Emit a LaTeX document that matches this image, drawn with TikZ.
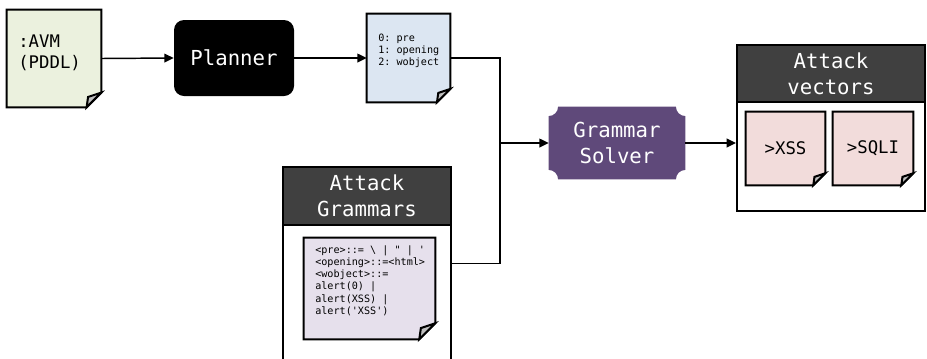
\documentclass[tikz,border=0pt]{standalone}
\usepackage{fontspec}
\setmonofont{DejaVu Sans Mono}
\usetikzlibrary{arrows.meta,calc}
\pgfdeclarelayer{background}
\pgfsetlayers{background,main}

\definecolor{avmfill}{HTML}{EBF1DE}
\definecolor{planfill}{HTML}{DCE6F2}
\definecolor{gramfill}{HTML}{E6E0EC}
\definecolor{vecfill}{HTML}{F2DCDB}
\definecolor{solverfill}{HTML}{5F497A}
\definecolor{headfill}{HTML}{404040}
\definecolor{foldgray}{HTML}{BFBFBF}

% Sheet of paper with a folded bottom-right corner, drawn behind node #1
\newcommand\dogear[3]{%
  \begin{pgfonlayer}{background}
    \path[docline, fill=#2] (#1.north west) -- (#1.north east)
      -- ([yshift=#3]#1.south east) -- ([xshift=-#3]#1.south east)
      -- (#1.south west) -- cycle;
    \path[docline, fill=foldgray] ([yshift=#3]#1.south east)
      -- ([xshift=-#3]#1.south east)
      -- ([shift={(-0.9*#3,0.7*#3)}]#1.south east) -- cycle;
  \end{pgfonlayer}}

\begin{document}
\begin{tikzpicture}[x=0.75pt, y=-0.75pt,
  big/.style={font=\ttfamily\fontsize{15.5}{19.5}\selectfont},
  mid/.style={font=\ttfamily\fontsize{13}{15.5}\selectfont},
  small/.style={font=\ttfamily\fontsize{7.6}{9.2}\selectfont},
  docline/.style={draw=black, line width=1.5pt},
  docbox/.style={rectangle, inner sep=0pt},
  doctext/.style={anchor=west, align=left, inner sep=0pt},
  frame/.style={rectangle, draw=black, line width=1.5pt, inner sep=0pt},
  head/.style={frame, fill=headfill, text=white, align=center, big},
  wire/.style={line width=1.1pt},
  conn/.style={wire, -{Triangle[length=7pt,width=6.5pt]}}]

\useasboundingbox (0,0) rectangle (927,358);

% Input model
\node[docbox, minimum width=70.5pt, minimum height=72.75pt] (avm) at (54,58.5) {};
\dogear{avm}{avmfill}{11pt}
\node[doctext, mid] (avmtext) at (18,53) {:AVM\\(PDDL)};

% Planner
\node[rectangle, rounded corners=7.5pt, fill=black, text=white, big,
      minimum width=90pt, minimum height=57pt] (planner) at (234,58) {Planner};

% Plan output
\node[docbox, minimum width=62.25pt, minimum height=66pt] (plan) at (408.5,58) {};
\dogear{plan}{planfill}{10pt}
\node[doctext, small] (plantext) at (378,51) {0: pre\\1: opening\\2: wobject};

% Attack grammars
\node[frame, minimum width=126pt, minimum height=144.75pt] (agbox) at (367,263.5) {};
\node[head, minimum width=126pt, minimum height=43.5pt] (aghead) at (367,196) {Attack\\Grammars};
\node[docbox, minimum width=98.25pt, minimum height=75.75pt] (gdoc) at (369.5,288.5) {};
\dogear{gdoc}{gramfill}{12pt}
\node[doctext, small] (gdoctext) at (315,280.5)
  {<pre>::= \textbackslash{} | " | '\\<opening>::=<html>\\<wobject>::=\\alert(0) |\\alert(XSS) |\\alert('XSS')};

% Grammar solver
\node[rectangle, inner sep=0pt, minimum width=102pt, minimum height=54pt,
      text=white, align=center, big] (solver) at (617,143) {Grammar\\Solver};
\begin{pgfonlayer}{background}
  \path[fill=solverfill]
    ([xshift=7pt]solver.north west) -- ([xshift=-7pt]solver.north east)
    arc[start angle=180, end angle=270, radius=7pt]
    -- ([yshift=7pt]solver.south east)
    arc[start angle=90, end angle=180, radius=7pt]
    -- ([xshift=7pt]solver.south west)
    arc[start angle=0, end angle=90, radius=7pt]
    -- ([yshift=-7pt]solver.north west)
    arc[start angle=270, end angle=360, radius=7pt] -- cycle;
\end{pgfonlayer}

% Attack vectors
\node[frame, minimum width=141pt, minimum height=124.5pt] (avbox) at (831,128) {};
\node[head, minimum width=141pt, minimum height=42.75pt] (avhead) at (831,73.5) {Attack\\vectors};
\node[docbox, minimum width=59.25pt, minimum height=54.75pt, mid] (xss) at (785.5,148.5) {>XSS};
\dogear{xss}{vecfill}{9pt}
\node[docbox, minimum width=60pt, minimum height=54.75pt, mid] (sqli) at (873,148.5) {>SQLI};
\dogear{sqli}{vecfill}{9pt}

% Connectors
\coordinate (join) at (500,143);
\draw[conn] (avm.east) -- (planner.west);
\draw[conn] (planner.east) -- (plan.west);
\draw[wire] (plan.east) -| (join);
\draw[wire] (agbox.east) -| (join);
\draw[conn] (join) -- (solver.west);
\draw[conn] (solver.east) -- (solver.east -| avbox.west);

\end{tikzpicture}
\end{document}
